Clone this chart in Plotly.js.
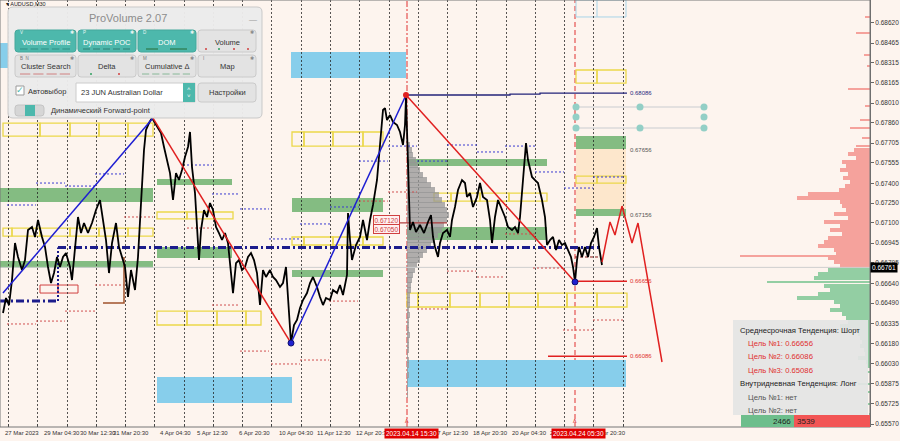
<!DOCTYPE html>
<html><head><meta charset="utf-8">
<script src="https://cdn.plot.ly/plotly-3.0.1.min.js"></script>
<style>html,body{margin:0;padding:0;background:#FDF4EE;}#chart{width:900px;height:441px;}</style>
</head><body><div id="chart"></div>
<script>
// ---------- DATA ----------
const priceX = [3,6,9,12,15,18,22,25,28,32,35,38,42,45,48,51,54,57,60,63,66,70,72,74,78,81,84,88,92,96,100,103,106,109,112,116,119,122,125,128,131,133,135,138,140,142,144,146,149,152,155,158,161,164,167,170,173,176,179,182,185,188,190,192,195,197,199,201,204,207,210,213,216,219,222,225,228,231,233,236,239,242,245,248,251,254,257,260,263,266,270,273,276,280,283,286,288,290,291,294,297,300,303,307,310,313,317,320,323,326,330,333,337,340,343,347,348,350,352,356,360,363,365,367,370,373,377,380,383,385,387,390,393,397,400,403,405,406,408,410,413,416,420,424,428,431,433,435,438,440,443,447,450,452,455,458,462,465,467,470,473,477,480,483,487,490,492,495,498,502,505,508,512,515,518,520,522,524,526,528,532,535,538,542,545,547,550,553,556,559,562,565,568,571,573,575,577,579,582,585,588,591,594,597,599,602];
const priceY = [0.66414,0.66528,0.66475,0.66665,0.66946,0.66840,0.66741,0.66817,0.67045,0.67068,0.66992,0.67121,0.66992,0.66916,0.66764,0.66642,0.66718,0.66840,0.66764,0.66840,0.66870,0.66764,0.66665,0.66817,0.67144,0.67022,0.67098,0.67022,0.67098,0.67197,0.67273,0.67121,0.66969,0.66718,0.66946,0.67098,0.66916,0.66840,0.66764,0.66536,0.66741,0.66665,0.66589,0.66840,0.67144,0.67402,0.67653,0.67805,0.67858,0.67896,0.67858,0.67828,0.67782,0.67676,0.67577,0.67478,0.67273,0.67478,0.67425,0.67501,0.67600,0.67676,0.67790,0.67524,0.67326,0.67045,0.66817,0.67045,0.67197,0.67144,0.67250,0.67197,0.67068,0.67022,0.66969,0.67022,0.66946,0.66718,0.66566,0.66794,0.66817,0.66741,0.66764,0.66840,0.66870,0.66817,0.66718,0.66475,0.66741,0.66688,0.66741,0.66688,0.66665,0.66612,0.66642,0.66764,0.66513,0.66262,0.66186,0.66323,0.66361,0.66452,0.66513,0.66566,0.66642,0.66688,0.66612,0.66536,0.66475,0.66528,0.66513,0.66589,0.66566,0.66627,0.66551,0.66703,0.67174,0.66969,0.66817,0.66931,0.66992,0.67121,0.67045,0.66969,0.67121,0.67235,0.67425,0.67706,0.67957,0.67972,0.67881,0.67919,0.67866,0.67843,0.67790,0.67691,0.67843,0.68056,0.67615,0.67045,0.67106,0.67030,0.67083,0.67022,0.67106,0.67159,0.66992,0.66916,0.66840,0.66946,0.67022,0.67045,0.66992,0.67121,0.67220,0.67349,0.67425,0.67402,0.67296,0.67326,0.67220,0.67296,0.67402,0.67296,0.67273,0.67121,0.66946,0.67144,0.67273,0.67197,0.67144,0.67068,0.67045,0.67068,0.67022,0.67144,0.67349,0.67524,0.67706,0.67577,0.67448,0.67425,0.67402,0.67273,0.67144,0.66931,0.66969,0.66992,0.66893,0.66969,0.66931,0.66946,0.66893,0.66840,0.66764,0.66650,0.66817,0.66916,0.66840,0.66916,0.66840,0.66946,0.66992,0.67060,0.66916,0.66779];

const forecastX = [602,610,615,622,632,638,662];
const forecastY = [0.66802,0.67106,0.67007,0.67227,0.66946,0.67098,0.66042];

const zigX = [3,153,291,406,575];
const zigY = [0.66566,0.67896,0.66186,0.68071,0.66650];

const navyX = [406,510,510,540,540,627];
const navyY = [0.68071,0.68071,0.68078,0.68078,0.68086,0.68086];

const currentPrice = 0.66761;
const pocX = [58,602]; const pocPrice = 0.66912;
const pocLowX = [0,58]; const pocLowPrice = 0.66505;

const target1X = [575,627]; const target1 = 0.66656;
const target2X = [548,627]; const target2 = 0.66086;

// zones: [x0, x1, priceTop, priceBottom]
const greenZones = [[0,153,0.67364,0.67258],[0,153,0.66809,0.66756],[157,232,0.67433,0.67387],[157,232,0.66916,0.66832],[292,383,0.67288,0.67182],[292,383,0.66741,0.66688],[407,547,0.67585,0.67531],[407,547,0.67068,0.66969],[576,626,0.67759,0.67661],[576,626,0.67205,0.67151]];
const orangeZones = [[576,626,0.67661,0.67205]];
const blueZones = [[291,406,0.68398,0.68200],[157,292,0.65928,0.65730],[407,626,0.66057,0.65852],[0,8,0.68466,0.68276]];
const blueOutline = [[576,626,0.68793,0.68664,597]];
// yellow rows: [x0, x1, top, bottom, dividers]
const yellowRows = [
 [3,153,0.67858,0.67759,[40,70,99,128]],
 [3,153,0.67060,0.66999,[12,40,70,99,128]],
 [157,233,0.67182,0.67129,[187]],
 [157,261,0.66429,0.66323,[187,217,246]],
 [292,383,0.67790,0.67683,[304,333,363]],
 [292,383,0.66992,0.66931,[304,333,363]],
 [434,547,0.67326,0.67265,[451,480,509]],
 [407,627,0.66566,0.66460,[418,450,480,509,538,567,597]],
 [576,626,0.68261,0.68162,[597]],
 [576,626,0.67455,0.67402,[597]]
];
const redBoxRow = [40,78,0.66627,0.66566,[58]];

// dashed levels: [x0, x1, price]
const blueDashes = [[7,36,0.67235],[36,65,0.67402],[65,95,0.67379],[95,124,0.67471],[187,212,0.67539],[212,240,0.67319],[240,269,0.67205],[269,300,0.66977],[300,330,0.67091],[330,359,0.67220],[359,388,0.67569],[388,417,0.67683],[417,447,0.67569],[447,477,0.67691],[477,505,0.67638],[505,535,0.67683],[535,564,0.67486],[564,593,0.67364],[593,623,0.67448]];
const redDashes = [[7,36,0.66331],[36,65,0.66353],[65,95,0.66429],[95,124,0.66627],[124,153,0.67144],[187,212,0.67060],[212,240,0.66475],[240,269,0.66125],[271,300,0.66027],[300,329,0.66057],[329,358,0.66505],[359,388,0.67265],[388,417,0.67334],[417,447,0.66445],[447,476,0.66733],[477,505,0.66688],[505,535,0.67015],[533,563,0.66756],[563,593,0.66285],[593,623,0.66361]];
const darkRedDashes = [[575,600,0.66840]];
const brownX = [103,124,124]; const brownY = [0.66490,0.66490,0.66840];
const markerLineX = [400,447]; const markerLinePrice = 0.67100;

// gray session volume profile (anchored at 407)
const grayProfPrice = [0.67691,0.67653,0.67615,0.67577,0.67539,0.67501,0.67463,0.67425,0.67387,0.67349,0.67311,0.67273,0.67235,0.67197,0.67159,0.67121,0.67083,0.67045,0.67007,0.66969,0.66931,0.66893,0.66855,0.66817,0.66779,0.66741,0.66703,0.66665,0.66627,0.66589,0.66551,0.66513,0.66475,0.66437,0.66399,0.66361,0.66323,0.66285,0.66247,0.66209,0.66171,0.66133,0.66095,0.66057,0.66019,0.65981,0.65943,0.65905,0.65867,0.65829,0.65791];
const grayProfLen = [3,5,6,9,11,13,16,20,24,28,32,35,38,40,42,40,37,35,31,28,24,20,16,13,10,8,6,5,4,4,3,3,3,2,3,2,2,2,3,2,2,2,1,2,2,1,2,1,1,1,1];

// right-hand volume profile
const rightRedLinePrice = [0.68664,0.68542,0.68375,0.68291,0.68117,0.67987,0.67881,0.67820,0.67744,0.67683,0.66848];
const rightRedLineLen = [5,14,6,3,22,5,10,20,8,14,130];
const rightRedPrice = [0.67653,0.67623,0.67592,0.67562,0.67531,0.67501,0.67471,0.67440,0.67410,0.67379,0.67349,0.67319,0.67288,0.67258,0.67227,0.67197,0.67167,0.67136,0.67106,0.67075,0.67045,0.67015,0.66984,0.66954,0.66923,0.66893,0.66863,0.66832,0.66802,0.66771];
const rightRedLen = [16,22,14,28,24,30,22,27,20,25,31,62,73,30,28,24,36,22,46,30,40,28,42,46,52,36,34,42,36,30];
const rightGreenPrice = [0.66741,0.66711,0.66680,0.66620,0.66589,0.66559,0.66528,0.66498,0.66467,0.66437,0.66407,0.66376,0.66346,0.66315,0.66285,0.66255,0.66224,0.66194,0.66163,0.66133,0.66103,0.66072,0.66042,0.66011];
const rightGreenLen = [42,52,56,46,40,52,73,36,30,40,28,24,22,30,15,12,10,8,10,6,5,12,4,3];
const rightGreenLinePrice = [0.66650,0.65966,0.65875,0.65814,0.65723,0.65647];
const rightGreenLineLen = [103,3,12,2,2,1];

const dotRowsX = [576,640,704];
const dotRowPrices = [0.67980,0.67820];
const dotMidX = [576,704]; const dotMidPrice = 0.67904;

// axes
const yTickVals = [0.68620,0.68465,0.68315,0.68165,0.68010,0.67860,0.67705,0.67555,0.67400,0.67250,0.67100,0.66945,0.66795,0.66640,0.66490,0.66335,0.66180,0.66030,0.65875,0.65725,0.65570];
const yTickText = ['0.68620','0.68465','0.68315','0.68165','0.68010','0.67860','0.67705','0.67555','0.67400','0.67250','0.67100','0.66945','0.66795','0.66640','0.66490','0.66335','0.66180','0.66030','0.65875','0.65725','0.65570'];
const gridX = [8,37,67,96,125,154,184,213,242,271,301,330,359,389,418,447,476,506,535,564,593,623];
// visible parts of the time labels (some are cut by the highlighted dates)
const xLabelPos = [3,42,78,111,158,195,237,277,315,354,432,471,510,548,601];
const xLabelText = ['27 Mar 2023','29 Mar 04:30','30 Mar 12:30','31 Mar 20:30','4 Apr 04:30','5 Apr 12:30','6 Apr 20:30','10 Apr 04:30','11 Apr 12:30','12 Apr 20:3','17 Apr 12:30','18 Apr 20:30','20 Apr 04:30','2','pr 20:30'];
const xHighlightPos = [384,551];
const xHighlightText = ['2023.04.14 15:30','2023.04.24 05:30'];
const vLines = [407,575];

const levelLabels = [[0.68086,'0.68086','#2A2A80'],[0.67656,'0.67656','#555555'],[0.67156,'0.67156','#555555'],[0.66656,'0.66656','#E03030'],[0.66086,'0.66086','#E03030']];
const boxLabels = [[0.67120,'0.67120'],[0.67050,'0.67050']];

const infoLines = [
 ['Среднесрочная Тенденция: Шорт','#222222',0],
 ['Цель №1: 0.66656','#E03030',1],
 ['Цель №2: 0.66086','#E03030',1],
 ['Цель №3: 0.65086','#E03030',1],
 ['Внутридневная Тенденция: Лонг','#222222',0],
 ['Цель №1: нет','#555555',1],
 ['Цель №2: нет','#555555',1]
];
const buyVol = '2466', sellVol = '3539';

// ---------- BUILD ----------
const FONT = 'Liberation Sans, Arial, sans-serif';
const W = 870, H = 427;
const X0 = 0, X1 = 870, P0 = 0.65548, P1 = 0.68793;
const px = x => x / W;
const py = y => 1 - y / H;

const traces = [];
function segTrace(list, color, dash, width) {
  const xs = [], ys = [];
  list.forEach(s => { xs.push(s[0], s[1], null); ys.push(s[2], s[2], null); });
  return {type:'scatter', mode:'lines', x:xs, y:ys, line:{color:color, dash:dash, width:width}, hoverinfo:'skip', showlegend:false};
}

traces.push({type:'bar', orientation:'h', y:grayProfPrice, x:grayProfLen, base:407, width:0.00040,
  marker:{color:'rgba(150,150,150,0.75)', line:{width:0}}, hoverinfo:'skip'});
traces.push({type:'bar', orientation:'h', y:rightRedPrice, x:rightRedLen.map(v=>-v), base:870, width:0.00026,
  marker:{color:'#F5A29C', line:{width:0}}, hoverinfo:'skip'});
traces.push({type:'bar', orientation:'h', y:rightRedLinePrice, x:rightRedLineLen.map(v=>-v), base:870, width:0.00011,
  marker:{color:'#F5A29C', line:{width:0}}, hoverinfo:'skip'});
traces.push({type:'bar', orientation:'h', y:rightGreenPrice, x:rightGreenLen.map(v=>-v), base:870, width:0.00026,
  marker:{color:'#93CEA3', line:{width:0}}, hoverinfo:'skip'});
traces.push({type:'bar', orientation:'h', y:rightGreenLinePrice, x:rightGreenLineLen.map(v=>-v), base:870, width:0.00011,
  marker:{color:'#93CEA3', line:{width:0}}, hoverinfo:'skip'});

traces.push({type:'scatter', mode:'lines', x:[X0,X1], y:[currentPrice,currentPrice], line:{color:'#CFCFCF', width:1}, hoverinfo:'skip'});

traces.push(segTrace(blueDashes, '#3A3AD0', '2px,2px', 1));
traces.push(segTrace(redDashes, '#D05050', '2px,2px', 1));
traces.push(segTrace(darkRedDashes, '#8B1A1A', '3px,2px', 1));

traces.push({type:'scatter', mode:'lines', x:pocX, y:[pocPrice,pocPrice], line:{color:'#1C1C8C', width:3, dash:'8px,3px,2px,3px'}, hoverinfo:'skip'});
traces.push({type:'scatter', mode:'lines', x:pocLowX, y:[pocLowPrice,pocLowPrice], line:{color:'#1C1C8C', width:3, dash:'8px,3px,2px,3px'}, hoverinfo:'skip'});
traces.push({type:'scatter', mode:'lines', x:[pocX[0],pocX[0]], y:[pocLowPrice,pocPrice], line:{color:'#1C1C8C', width:2, dash:'2px,2px'}, hoverinfo:'skip'});

traces.push({type:'scatter', mode:'lines', x:brownX, y:brownY, line:{color:'#A0522D', width:1.5}, hoverinfo:'skip'});
traces.push({type:'scatter', mode:'lines', x:markerLineX, y:[markerLinePrice,markerLinePrice], line:{color:'#B04040', width:1.2}, hoverinfo:'skip'});

dotRowPrices.forEach(p => {
  traces.push({type:'scatter', mode:'lines', x:[dotRowsX[0],dotRowsX[2]], y:[p,p], line:{color:'#DADADA', width:1.5}, hoverinfo:'skip'});
  traces.push({type:'scatter', mode:'markers', x:dotRowsX, y:dotRowsX.map(()=>p), marker:{color:'#93CFC6', size:7}, hoverinfo:'skip'});
});
traces.push({type:'scatter', mode:'markers', x:dotMidX, y:[dotMidPrice,dotMidPrice], marker:{color:'#93CFC6', size:7}, hoverinfo:'skip'});

traces.push({type:'scatter', mode:'lines', x:navyX, y:navyY, line:{color:'#23237A', width:1.3}, hoverinfo:'skip'});
traces.push({type:'scatter', mode:'lines', x:target1X, y:[target1,target1], line:{color:'#E02020', width:1.5}, hoverinfo:'skip'});
traces.push({type:'scatter', mode:'lines', x:target2X, y:[target2,target2], line:{color:'#E02020', width:1.5}, hoverinfo:'skip'});

traces.push({type:'scatter', mode:'lines', x:priceX, y:priceY, line:{color:'#000000', width:1.8}, hoverinfo:'skip'});

const zigColors = ['#1E1ED2','#E02020','#1E1ED2','#E02020'];
for (let i = 0; i < zigX.length - 1; i++) {
  traces.push({type:'scatter', mode:'lines', x:[zigX[i],zigX[i+1]], y:[zigY[i],zigY[i+1]], line:{color:zigColors[i], width:1.5}, hoverinfo:'skip'});
}
traces.push({type:'scatter', mode:'lines', x:forecastX, y:forecastY, line:{color:'#E02020', width:1.5}, hoverinfo:'skip'});
traces.push({type:'scatter', mode:'markers', x:[zigX[2],zigX[4]], y:[zigY[2],zigY[4]], marker:{color:'#2020D0', size:6, line:{color:'#101070', width:1}}, hoverinfo:'skip'});
traces.push({type:'scatter', mode:'markers', x:[zigX[3]], y:[zigY[3]], marker:{color:'#E02020', size:6}, hoverinfo:'skip'});

// ---------- SHAPES ----------
const shapes = [];
function zoneRect(z, fill, line, lw, layer) {
  return {type:'rect', xref:'x', yref:'y', x0:z[0], x1:z[1], y0:z[3], y1:z[2], fillcolor:fill, line:{color:line, width:lw}, layer:layer||'below'};
}
orangeZones.forEach(z => shapes.push(zoneRect(z, 'rgba(253,228,195,0.8)', 'rgba(0,0,0,0)', 0)));
blueZones.forEach(z => shapes.push(zoneRect(z, '#87CEEB', 'rgba(0,0,0,0)', 0)));
greenZones.forEach(z => shapes.push(zoneRect(z, 'rgba(110,178,110,0.85)', 'rgba(0,0,0,0)', 0)));
blueOutline.forEach(z => {
  shapes.push(zoneRect(z, 'rgba(0,0,0,0)', '#A8D4E8', 1));
  shapes.push({type:'line', xref:'x', yref:'y', x0:z[4], x1:z[4], y0:z[3], y1:z[2], line:{color:'#A8D4E8', width:1}, layer:'below'});
});
function cellRow(r, color, lw) {
  const edges = [r[0]].concat(r[4]).concat([r[1]]);
  for (let i = 0; i < edges.length - 1; i++) {
    shapes.push(zoneRect([edges[i], edges[i+1], r[2], r[3]], 'rgba(0,0,0,0)', color, lw));
  }
}
yellowRows.forEach(r => cellRow(r, '#EBD84A', 1.3));
cellRow(redBoxRow, '#D04040', 1);

vLines.forEach((v, i) => shapes.push({type:'line', xref:'x', yref:'paper', x0:v, x1:v, y0:0, y1:1,
  line:{color:'#E03030', width:1, dash: i===0 ? '6px,2px,2px,2px' : '5px,3px'}, layer:'below'}));

shapes.push({type:'rect', xref:'paper', yref:'paper', x0:0, x1:1, y0:0, y1:1, line:{color:'#777', width:1}, fillcolor:'rgba(0,0,0,0)', layer:'above'});

function rr(x0, y0, x1, y1, r, fill, line, lw) {
  const d = `M ${px(x0+r)},${py(y0)} L ${px(x1-r)},${py(y0)} Q ${px(x1)},${py(y0)} ${px(x1)},${py(y0+r)} L ${px(x1)},${py(y1-r)} Q ${px(x1)},${py(y1)} ${px(x1-r)},${py(y1)} L ${px(x0+r)},${py(y1)} Q ${px(x0)},${py(y1)} ${px(x0)},${py(y1-r)} L ${px(x0)},${py(y0+r)} Q ${px(x0)},${py(y0)} ${px(x0+r)},${py(y0)} Z`;
  return {type:'path', xref:'paper', yref:'paper', path:d, fillcolor:fill, line:{color:line, width:lw}, layer:'above'};
}
function prect(x0, y0, x1, y1, fill, line, lw) {
  return {type:'rect', xref:'paper', yref:'paper', x0:px(x0), x1:px(x1), y0:py(y1), y1:py(y0), fillcolor:fill, line:{color:line||'rgba(0,0,0,0)', width:lw||0}, layer:'above'};
}

shapes.push(prect(733, 320, 868, 415, 'rgba(228,228,228,0.93)'));
shapes.push(prect(741, 415, 794, 427, '#6DBE8C'));
shapes.push(prect(794, 415, 870, 427, '#F25555'));

shapes.push(rr(8, 7, 262, 118, 5, 'rgba(235,235,235,0.97)', '#C9C9C9', 1));
const TEAL = '#4DB8AC';
const buttons = [
  [15,30,76,52,'Volume Profile',1,'V'],[78,30,136,52,'Dynamic POC',1,'P'],[138,30,196,52,'DOM',1,'D'],[198,30,256,52,'Volume',0,''],
  [15,55,76,77,'Cluster Search',0,'B  N'],[78,55,136,77,'Delta',0,''],[138,55,196,77,'Cumulative Δ',0,'M'],[198,55,256,77,'Map',0,'I']
];
buttons.forEach(b => shapes.push(rr(b[0], b[1], b[2], b[3], 3, b[5] ? TEAL : '#E3E3E3', b[5] ? '#44A89C' : '#CACACA', 1)));
function dashRow(x0, x1, y, color, n) {
  const step = (x1 - x0) / n;
  for (let i = 0; i < n; i++) shapes.push({type:'line', xref:'paper', yref:'paper', x0:px(x0+i*step+1), x1:px(x0+(i+1)*step-2), y0:py(y), y1:py(y), line:{color:color, width:1}, layer:'above'});
}
dashRow(19, 72, 49, '#2E8F84', 5);
dashRow(82, 132, 49, '#2E7F74', 5);
shapes.push({type:'line', xref:'paper', yref:'paper', x0:px(146), x1:px(158), y0:py(49), y1:py(49), line:{color:'#2C7A4A', width:1.2}, layer:'above'});
shapes.push({type:'line', xref:'paper', yref:'paper', x0:px(170), x1:px(187), y0:py(49), y1:py(49), line:{color:'#2C7A4A', width:1.2}, layer:'above'});
dashRow(19, 72, 74, '#D08080', 4);
dashRow(141, 192, 74, '#88B898', 5);
[[206,'#D04040'],[219,'#30A060'],[234,'#D04040'],[248,'#D04040']].forEach(d => shapes.push({type:'circle', xref:'paper', yref:'paper', x0:px(d[0]-1), x1:px(d[0]+1), y0:py(50), y1:py(48), fillcolor:d[1], line:{width:0}, layer:'above'}));
[[91,'#30A060'],[119,'#D04040']].forEach(d => shapes.push({type:'circle', xref:'paper', yref:'paper', x0:px(d[0]-1), x1:px(d[0]+1), y0:py(75), y1:py(73), fillcolor:d[1], line:{width:0}, layer:'above'}));
shapes.push(prect(16, 86, 24, 95, '#FFFFFF', '#9A9A9A', 1));
shapes.push(prect(76, 83, 195, 102, '#FFFFFF', '#CCCCCC', 1));
shapes.push(prect(183, 83, 195, 102, TEAL));
shapes.push(rr(198, 83, 256, 102, 3, '#E3E3E3', '#CACACA', 1));
shapes.push(rr(15, 105, 44, 116, 3, '#D6D6D6', '#C4C4C4', 1));
shapes.push(prect(25, 105, 35, 116, TEAL));

// ---------- ANNOTATIONS ----------
const ann = [];
function ptext(x, y, text, size, color, anchor, extra) {
  return Object.assign({xref:'paper', yref:'paper', x:px(x), y:py(y), text:text, showarrow:false, xanchor:anchor||'left', yanchor:'middle',
    font:{family:FONT, size:size, color:color}}, extra||{});
}
xLabelText.forEach((t, i) => ann.push({xref:'x', yref:'paper', x:xLabelPos[i], y:0, yanchor:'top', xanchor:'left', yshift:-1, text:t, showarrow:false, font:{family:FONT, size:6, color:'#333'}}));
xHighlightText.forEach((t, i) => ann.push({xref:'x', yref:'paper', x:xHighlightPos[i], y:0, yanchor:'top', xanchor:'left', yshift:-1, text:t, showarrow:false, bgcolor:'#E00000', borderpad:1, font:{family:FONT, size:6.5, color:'#FFFFFF'}}));
vLines.forEach(v => ann.push({xref:'x', yref:'paper', x:v, y:0, yanchor:'bottom', xanchor:'center', yshift:1, text:'ʌ', showarrow:false, font:{family:FONT, size:7, color:'#E03030'}}));
ann.push({xref:'paper', yref:'y', x:1, y:currentPrice, xanchor:'left', yanchor:'middle', text:'0.66761', showarrow:false, bgcolor:'#000000', borderpad:1, font:{family:FONT, size:6.5, color:'#FFFFFF'}});
levelLabels.forEach(l => ann.push({xref:'x', yref:'y', x:628, y:l[0], xanchor:'left', yanchor:'middle', text:l[1], showarrow:false, font:{family:FONT, size:6, color:l[2]}}));
boxLabels.forEach(l => ann.push({xref:'x', yref:'y', x:400, y:l[0], xanchor:'right', yanchor:'middle', text:l[1], showarrow:false, bgcolor:'#FFF0F0', bordercolor:'#D04040', borderwidth:1, borderpad:0.5, font:{family:FONT, size:6.5, color:'#D04040'}}));
ann.push(ptext(4, 4, '▾ AUDUSD,M30', 5.5, '#222'));
infoLines.forEach((l, i) => ann.push(ptext(l[2] ? 746 : 738, 330 + i * 13.4, l[0], 7.7, l[1])));
ann.push(ptext(793, 421, buyVol, 8, '#1E1E1E', 'right'));
ann.push(ptext(795, 421, sellVol, 8, '#1E1E1E', 'left'));
ann.push(ptext(128, 18, 'ProVolume 2.07', 11, '#8C8C8C', 'center'));
ann.push(ptext(253, 19, '—', 8, '#999', 'center'));
buttons.forEach(b => {
  ann.push(ptext((b[0]+b[2])/2, (b[1]+b[3])/2 + 1, b[4], 7.5, b[5] ? '#FFFFFF' : '#333333', 'center'));
  if (b[6]) ann.push(ptext(b[0]+3, b[1]+3, b[6], 4.5, b[5] ? '#E8F6F4' : '#777', 'left'));
  ann.push(ptext(b[2]-4, b[1]+3, '✱', 4.5, b[5] ? '#E8F6F4' : '#888', 'center'));
});
ann.push(ptext(20, 90, '✓', 9, TEAL, 'center'));
ann.push(ptext(26, 91, 'Автовыбор', 7.5, '#333'));
ann.push(ptext(79, 92.5, '23 JUN Australian Dollar', 7.5, '#333'));
ann.push(ptext(189, 89, '˄', 6, '#FFFFFF', 'center'));
ann.push(ptext(189, 96, '˅', 6, '#FFFFFF', 'center'));
ann.push(ptext(227, 92.5, 'Настройки', 7.5, '#333', 'center'));
ann.push(ptext(49, 110.5, 'Динамический Forward-point', 7.5, '#333'));

const layout = {
  width:900, height:441,
  margin:{l:0, r:30, t:0, b:14, pad:0},
  paper_bgcolor:'#FDF4EE', plot_bgcolor:'#FDF4EE',
  showlegend:false, hovermode:false, barmode:'overlay', bargap:0,
  xaxis:{range:[X0,X1], tickvals:gridX, showticklabels:false, showgrid:true, gridcolor:'rgba(30,30,30,0.75)', griddash:'2px,2px', gridwidth:1,
    ticks:'inside', ticklen:3, tickcolor:'#444', showline:false, zeroline:false, fixedrange:true},
  yaxis:{range:[P0,P1], side:'right', tickvals:yTickVals, ticktext:yTickText, showgrid:false, zeroline:false, showline:true, linecolor:'#666', linewidth:1,
    ticks:'outside', ticklen:3, tickcolor:'#666', tickfont:{family:FONT, size:6.5, color:'#333'}, fixedrange:true},
  shapes:shapes, annotations:ann
};
Plotly.newPlot('chart', traces, layout, {staticPlot:true, displayModeBar:false});
</script></body></html>
